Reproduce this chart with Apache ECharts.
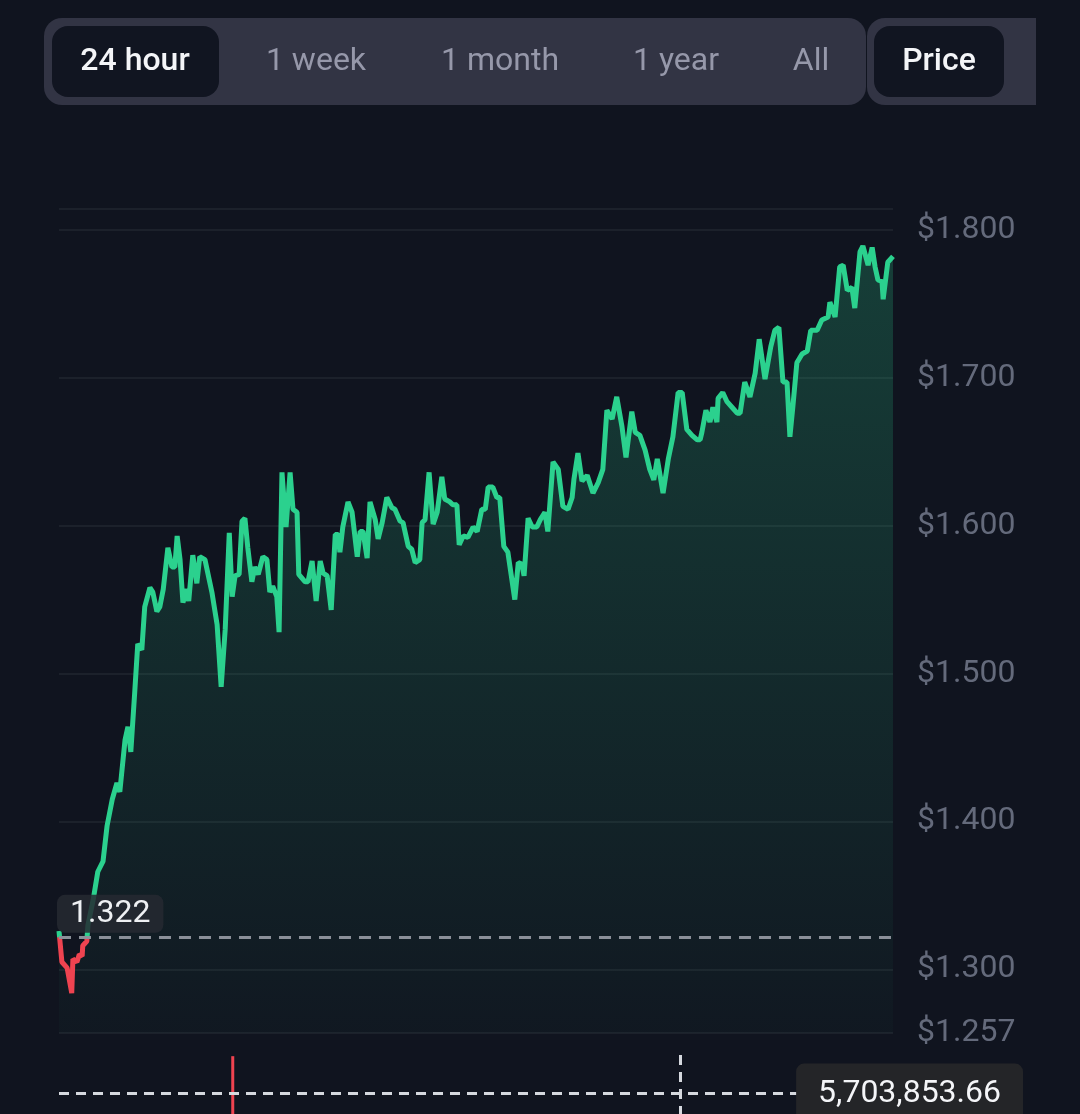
<!DOCTYPE html>
<html>
<head>
<meta charset="utf-8">
<script src="https://cdn.jsdelivr.net/npm/echarts@6/dist/echarts.min.js"></script>
<style>
  html, body { margin: 0; padding: 0; background: #10141f; }
  #chart { width: 1080px; height: 1114px; }
</style>
</head>
<body>
<div id="chart"></div>
<script>
// minutes since start of the 24h window
var times = [0,5,14,22,24,31,35,40,41,48,50,59,67,76,83,92,100,105,114,119,124,131,136,143,148,157,162,169,174,180,
  188,195,200,204,209,214,221,224,231,238,243,252,264,273,280,287,294,299,304,311,316,321,326,333,338,344,352,359,364,369,
  376,380,385,392,399,404,411,414,425,430,437,444,451,456,463,470,477,482,485,490,499,506,515,520,525,532,537,546,551,558,
  566,575,580,589,594,603,609,615,623,627,632,639,646,653,661,666,675,680,687,691,698,706,715,722,730,736,741,749,756,761,
  768,775,787,793,799,803,810,817,825,831,839,844,853,862,870,879,886,889,896,903,912,922,931,939,946,955,963,972,979,989,
  995,1003,1012,1020,1027,1033,1043,1052,1060,1069,1076,1084,1093,1102,1107,1110,1117,1124,1129,1136,1138,1146,1153,1162,1171,1176,1184,1193,1202,1209,
  1219,1229,1236,1243,1250,1257,1262,1267,1274,1283,1292,1298,1309,1317,1328,1331,1340,1348,1354,1361,1369,1374,1383,1388,1397,1404,1409,1414,1421,1423,
  1431,1440];

var prices = [1.326,1.305,1.301,1.284,1.307,1.305,1.310,1.309,1.316,1.319,1.330,1.347,1.366,1.373,1.397,1.415,1.426,1.420,1.455,1.464,
  1.447,1.489,1.520,1.516,1.545,1.558,1.555,1.542,1.545,1.557,1.585,1.572,1.572,1.593,1.577,1.548,1.557,1.549,1.580,1.561,
  1.579,1.577,1.555,1.533,1.491,1.530,1.595,1.552,1.566,1.567,1.603,1.605,1.585,1.562,1.572,1.567,1.579,1.577,1.555,1.559,
  1.552,1.528,1.636,1.599,1.636,1.611,1.609,1.567,1.562,1.562,1.576,1.549,1.576,1.568,1.566,1.543,1.594,1.594,1.582,1.599,
  1.616,1.609,1.579,1.596,1.596,1.578,1.616,1.604,1.591,1.602,1.619,1.612,1.611,1.603,1.602,1.586,1.584,1.575,1.577,1.602,
  1.604,1.636,1.601,1.609,1.633,1.618,1.616,1.614,1.614,1.587,1.593,1.592,1.599,1.596,1.611,1.611,1.626,1.626,1.619,1.619,
  1.586,1.582,1.550,1.575,1.574,1.566,1.605,1.599,1.599,1.604,1.609,1.596,1.643,1.638,1.613,1.611,1.619,1.631,1.649,1.630,
  1.634,1.622,1.629,1.638,1.678,1.672,1.687,1.667,1.646,1.677,1.663,1.661,1.651,1.638,1.631,1.645,1.622,1.645,1.660,1.690,
  1.690,1.665,1.661,1.658,1.658,1.663,1.678,1.670,1.680,1.670,1.686,1.690,1.684,1.680,1.676,1.676,1.697,1.687,1.703,1.726,
  1.699,1.721,1.732,1.734,1.697,1.697,1.660,1.680,1.710,1.716,1.718,1.732,1.732,1.739,1.741,1.751,1.741,1.775,1.776,1.759,
  1.761,1.747,1.785,1.789,1.776,1.788,1.775,1.766,1.765,1.753,1.778,1.782];

var basePrice = 1.322;
var yMin = 1.257;
var yMax = 1.814;
var gridValues = [1.257, 1.3, 1.4, 1.5, 1.6, 1.7, 1.8, 1.814];
var labelValues = [1.257, 1.3, 1.4, 1.5, 1.6, 1.7, 1.8];

// volume pane, only the part that shows
var volTimes = [300];
var volValues = [7050000];
var volMax = 7200000;
var crossVolume = 5703853.66;
var crossTime = 1072;

var tabs = ['24 hour', '1 week', '1 month', '1 year', 'All'];
var tabCenters = [135, 316, 500, 676, 811];

var GREEN = '#2bd18e';
var RED = '#ef4350';
var FONT = 'Roboto, "Noto Sans", sans-serif';

var priceData = [];
for (var i = 0; i < times.length; i++) {
  priceData.push([times[i], prices[i]]);
}
var volData = [];
for (var i = 0; i < volTimes.length; i++) {
  volData.push([volTimes[i], volValues[i]]);
}

var graphic = [
  { type: 'rect', shape: { x: 44, y: 18, width: 822, height: 87, r: 18 }, style: { fill: '#323444' } },
  { type: 'rect', shape: { x: 867, y: 18, width: 169, height: 87, r: [18, 0, 0, 18] }, style: { fill: '#323444' } },
  { type: 'rect', shape: { x: 52, y: 26, width: 167, height: 71, r: 16 }, style: { fill: '#111521' } },
  { type: 'rect', shape: { x: 874, y: 26, width: 130, height: 71, r: 16 }, style: { fill: '#111521' } },
  { type: 'text', style: { text: 'Price', x: 939, y: 62, fill: '#f4f5f8', fontSize: 32, fontWeight: 500, fontFamily: FONT, align: 'center', verticalAlign: 'middle' } }
];
for (var i = 0; i < tabs.length; i++) {
  graphic.push({
    type: 'text',
    style: {
      text: tabs[i], x: tabCenters[i], y: 62,
      fill: i === 0 ? '#f4f5f8' : '#9698aa',
      fontSize: 32, fontWeight: i === 0 ? 500 : 'normal', fontFamily: FONT,
      align: 'center', verticalAlign: 'middle'
    }
  });
}

var chart = echarts.init(document.getElementById('chart'));

var option = {
  backgroundColor: '#10141f',
  animation: false,
  textStyle: { fontFamily: FONT },
  grid: [
    { left: 59, right: 187, top: 209, height: 824, outerBoundsMode: 'none' },
    { left: 59, right: 187, top: 1052, height: 200, outerBoundsMode: 'none' }
  ],
  xAxis: [
    { type: 'value', gridIndex: 0, min: 0, max: 1440, show: false },
    { type: 'value', gridIndex: 1, min: 0, max: 1440, show: false }
  ],
  yAxis: [
    {
      type: 'value', gridIndex: 0, position: 'right', min: yMin, max: yMax,
      axisLine: { show: false },
      axisTick: { show: false, customValues: gridValues },
      axisLabel: {
        customValues: labelValues,
        color: '#646a7b', fontSize: 32, margin: 24, fontFamily: FONT,
        formatter: function (v) { return '$' + v.toFixed(3); }
      },
      splitLine: { show: true, lineStyle: { color: '#1c212b', width: 2 } }
    },
    { type: 'value', gridIndex: 1, min: 0, max: volMax, show: false }
  ],
  series: [
    {
      type: 'line',
      xAxisIndex: 0, yAxisIndex: 0,
      data: priceData,
      symbol: 'none',
      lineStyle: { width: 5, color: GREEN },
      areaStyle: {
        color: new echarts.graphic.LinearGradient(0, 0, 0, 1, [
          { offset: 0, color: 'rgba(43,209,142,0.32)' },
          { offset: 1, color: 'rgba(43,209,142,0.03)' }
        ])
      },
      markLine: {
        silent: true,
        symbol: 'none',
        precision: 3,
        lineStyle: { type: [12, 8], color: '#8b9099', width: 3 },
        label: {
          position: 'insideStartTop',
          distance: [-2, 4],
          formatter: function (p) { return p.value.toFixed(3); },
          color: '#eef0f3', fontSize: 32, fontFamily: FONT,
          backgroundColor: 'rgba(38,41,49,0.85)',
          borderRadius: 8,
          padding: [3, 13]
        },
        data: [{ yAxis: basePrice }]
      }
    },
    {
      type: 'bar',
      xAxisIndex: 1, yAxisIndex: 1,
      data: volData,
      barWidth: 3,
      itemStyle: { color: RED },
      markLine: {
        silent: true,
        symbol: 'none',
        precision: 2,
        lineStyle: { type: [10, 7], color: '#d5d8de', width: 3 },
        label: {
          position: 'end',
          distance: 130,
          align: 'right',
          verticalAlign: 'middle',
          formatter: function (p) {
            return p.value.toLocaleString('en-US', { minimumFractionDigits: 2, maximumFractionDigits: 2 });
          },
          color: '#f4f5f8', fontSize: 32, fontFamily: FONT,
          backgroundColor: '#242528',
          borderRadius: 8,
          padding: [14, 22]
        },
        data: [
          { yAxis: crossVolume },
          { xAxis: crossTime, label: { show: false } }
        ]
      }
    }
  ],
  graphic: graphic
};

chart.setOption(option);

// line turns red below the opening price: hard stop in a global gradient
var baseY = chart.convertToPixel({ yAxisIndex: 0 }, basePrice);
chart.setOption({
  series: [{
    lineStyle: {
      color: new echarts.graphic.LinearGradient(0, baseY, 0, baseY + 1, [
        { offset: 0, color: GREEN },
        { offset: 1, color: RED }
      ], true)
    }
  }]
});
</script>
</body>
</html>
